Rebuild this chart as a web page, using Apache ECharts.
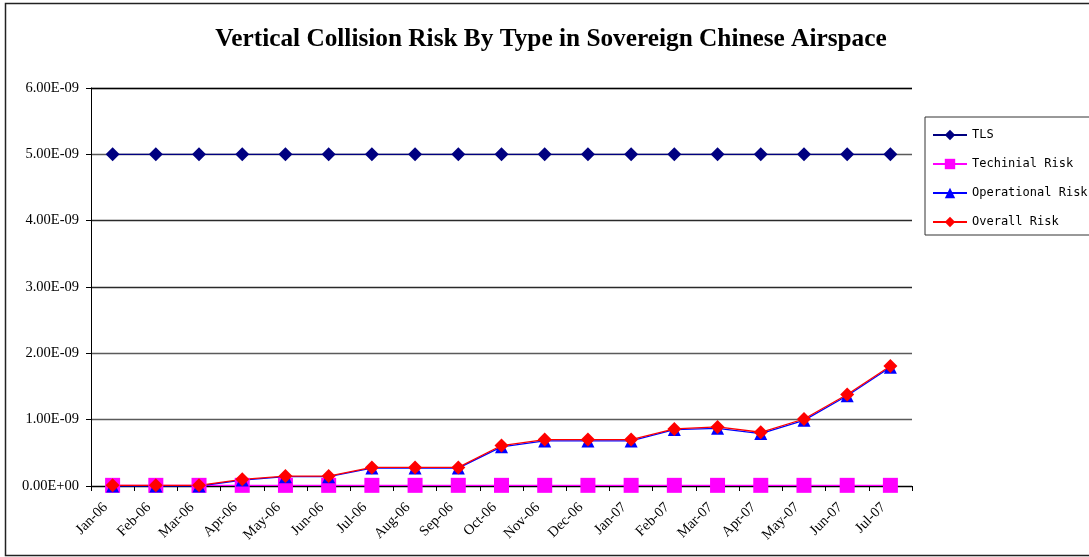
<!DOCTYPE html>
<html>
<head>
<meta charset="utf-8">
<script src="https://cdn.jsdelivr.net/npm/echarts@6/dist/echarts.min.js"></script>
<style>
  html, body { margin: 0; padding: 0; background: #fff; }
  #chart { width: 1089px; height: 557px; }
</style>
</head>
<body>
<div id="chart"></div>
<script>
// Months covered by the vertical collision risk assessment
const months = ['Jan-06', 'Feb-06', 'Mar-06', 'Apr-06', 'May-06', 'Jun-06', 'Jul-06',
  'Aug-06', 'Sep-06', 'Oct-06', 'Nov-06', 'Dec-06', 'Jan-07', 'Feb-07', 'Mar-07',
  'Apr-07', 'May-07', 'Jun-07', 'Jul-07'];

// Risk values in units of 1E-09
const tls = [5, 5, 5, 5, 5, 5, 5, 5, 5, 5, 5, 5, 5, 5, 5, 5, 5, 5, 5];
const technicalRisk = [0.01, 0.01, 0.01, 0.01, 0.01, 0.01, 0.01, 0.01, 0.01, 0.01,
  0.01, 0.01, 0.01, 0.01, 0.01, 0.01, 0.01, 0.01, 0.01];
const operationalRisk = [0, 0, 0, 0.09, 0.14, 0.14, 0.27, 0.27, 0.27, 0.59,
  0.68, 0.68, 0.68, 0.85, 0.87, 0.79, 0.99, 1.36, 1.79];
const overallRisk = [0.01, 0.01, 0.01, 0.10, 0.15, 0.15, 0.28, 0.28, 0.28, 0.61,
  0.70, 0.70, 0.70, 0.86, 0.89, 0.81, 1.01, 1.38, 1.81];

const SCALE = 1e-9;
const toAbs = arr => arr.map(v => v * SCALE);

// Spreadsheet-style scientific notation: 5.00E-09, 0.00E+00
function sci(v) {
  if (Math.abs(v) < 1e-20) return '0.00E+00';
  let exp = Math.floor(Math.log10(Math.abs(v)));
  let mant = v / Math.pow(10, exp);
  if (Math.round(mant * 100) >= 1000) { mant /= 10; exp += 1; }
  const sign = exp < 0 ? '-' : '+';
  const e = String(Math.abs(exp)).padStart(2, '0');
  return mant.toFixed(2) + 'E' + sign + e;
}

const chart = echarts.init(document.getElementById('chart'), null, { renderer: 'canvas' });

const serif = '"Liberation Serif", "Times New Roman", serif';
const mono = '"DejaVu Sans Mono", monospace';

function lineSeries(name, data, color, symbol, size) {
  return {
    name: name,
    type: 'line',
    data: toAbs(data),
    symbol: symbol,
    symbolSize: size,
    showAllSymbol: true,
    lineStyle: { color: color, width: 1.3 },
    itemStyle: { color: color },
    emphasis: { disabled: true },
    animation: false
  };
}

chart.setOption({
  backgroundColor: '#ffffff',
  animation: false,
  title: {
    text: 'Vertical Collision Risk By Type in Sovereign Chinese Airspace',
    left: 546,
    textAlign: 'center',
    top: 22,
    textStyle: { fontFamily: serif, fontWeight: 'bold', fontSize: 25.3, color: '#000' }
  },
  graphic: [{
    type: 'rect',
    shape: { x: 5.5, y: 3.5, width: 1100, height: 552 },
    style: { fill: 'none', stroke: '#222', lineWidth: 1.5 },
    silent: true,
    z: -1
  }],
  legend: {
    orient: 'vertical',
    left: 925,
    top: 117,
    width: 200,
    padding: [12, 60, 7, 7],
    borderColor: '#333',
    borderWidth: 1,
    itemWidth: 34,
    itemHeight: 13,
    itemGap: 17,
    textStyle: { fontFamily: mono, fontSize: 12, color: '#000' },
    data: ['TLS', 'Techinial Risk', 'Operational Risk', 'Overall Risk']
  },
  grid: { left: 91, right: 177, top: 88, bottom: 71 },
  xAxis: {
    type: 'category',
    data: months,
    boundaryGap: true,
    axisLine: { lineStyle: { color: '#000', width: 1 } },
    axisTick: { show: true, length: 5, lineStyle: { color: '#000' } },
    axisLabel: {
      rotate: 45,
      interval: 0,
      fontFamily: serif,
      fontSize: 14.5,
      color: '#000',
      margin: 12,
      padding: [0, 10, 0, 0]
    },
    splitLine: { show: false }
  },
  yAxis: {
    type: 'value',
    min: 0,
    max: 6 * SCALE,
    interval: 1 * SCALE,
    axisLine: { show: true, lineStyle: { color: '#000', width: 1 } },
    axisTick: { show: true, length: 5, lineStyle: { color: '#000' } },
    axisLabel: {
      formatter: v => sci(v),
      fontFamily: serif,
      fontSize: 14.5,
      color: '#000',
      margin: 12
    },
    splitLine: {
      show: true,
      lineStyle: {
        color: ['#000', '#5a5a5a', '#5a5a5a', '#2a2a2a', '#2a2a2a', '#5a5a5a', '#b0b0b0'],
        width: 1.3
      }
    }
  },
  series: [
    lineSeries('TLS', tls, '#000080', 'diamond', 14),
    lineSeries('Techinial Risk', technicalRisk, '#FF00FF', 'rect', 15),
    lineSeries('Operational Risk', operationalRisk, '#0000FF', 'triangle', 13),
    lineSeries('Overall Risk', overallRisk, '#FF0000', 'diamond', 14)
  ]
});
</script>
</body>
</html>
